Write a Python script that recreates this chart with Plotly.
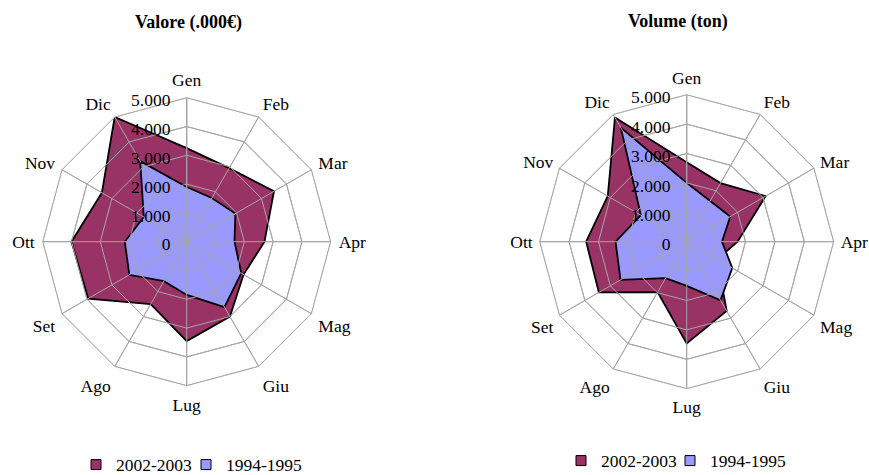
import plotly.graph_objects as go

months = ["Gen", "Feb", "Mar", "Apr", "Mag", "Giu", "Lug", "Ago", "Set", "Ott", "Nov", "Dic"]
valore_2002_2003 = [3250, 2950, 3500, 2700, 2280, 3000, 3450, 2500, 3950, 4000, 3400, 5000]
valore_1994_1995 = [1900, 1750, 1950, 1660, 2190, 2620, 1850, 1580, 2300, 2150, 1720, 3230]
volume_2002_2003 = [2700, 2300, 3100, 1730, 1200, 2720, 3460, 1980, 3450, 3420, 3100, 4880]
volume_1994_1995 = [2000, 1600, 1710, 1200, 1790, 2300, 1500, 1430, 2600, 2420, 1800, 4480]
series_names = ["2002-2003", "1994-1995"]
tick_vals = [0, 1000, 2000, 3000, 4000, 5000]
tick_text = ["0", "1.000", "2.000", "3.000", "4.000", "5.000"]
titles = ["Valore (.000€)", "Volume (ton)"]

PURPLE = "#993366"
BLUE = "#9999FF"
GRID = "#a6a6a6"
FONT = "Liberation Serif"
W, H = 869, 475

def closed(vals):
    return list(vals) + [vals[0]]

fig = go.Figure()

def add_chart(subplot, legends, s_new, s_old):
    for name, vals, col in [(series_names[0], s_new, PURPLE), (series_names[1], s_old, BLUE)]:
        fig.add_trace(go.Scatterpolar(
            r=closed(vals), theta=closed(months), mode="lines", fill="toself",
            fillcolor=col, line=dict(color="black", width=1.8),
            showlegend=False, subplot=subplot, hoverinfo="r+theta", name=name))
    # grid overlay (rings and spokes drawn above the areas)
    for v in tick_vals[1:]:
        fig.add_trace(go.Scatterpolar(
            r=[v] * (len(months) + 1), theta=closed(months), mode="lines",
            line=dict(color=GRID, width=1), showlegend=False, hoverinfo="skip",
            subplot=subplot))
    sr, st = [], []
    for m in months:
        sr += [tick_vals[0], tick_vals[-1], None]
        st += [m, m, None]
    fig.add_trace(go.Scatterpolar(
        r=sr, theta=st, mode="lines", line=dict(color=GRID, width=1),
        showlegend=False, hoverinfo="skip", subplot=subplot, connectgaps=False))
    for name, col, lg in [(series_names[0], PURPLE, legends[0]), (series_names[1], BLUE, legends[1])]:
        fig.add_trace(go.Scatterpolar(
            r=[None], theta=[None], mode="markers", name=name,
            marker=dict(symbol="square", size=10, color=col, line=dict(color="black", width=1)),
            subplot=subplot, legend=lg, showlegend=True))

add_chart("polar", ("legend", "legend2"), valore_2002_2003, valore_1994_1995)
add_chart("polar2", ("legend3", "legend4"), volume_2002_2003, volume_1994_1995)

def polar_layout(cx, cy, rad, tl):
    return dict(
        domain=dict(x=[(cx - rad) / W, (cx + rad) / W],
                    y=[(H - cy - rad) / H, (H - cy + rad) / H]),
        gridshape="linear",
        bgcolor="white",
        radialaxis=dict(range=[0, 5000], tickvals=tick_vals, ticktext=tick_text,
                        angle=90, side="counterclockwise", showline=True,
                        linecolor=GRID, gridcolor=GRID, ticks="",
                        tickfont=dict(family=FONT, size=17.5, color="black"),
                        layer="above traces"),
        angularaxis=dict(rotation=90, direction="clockwise", linecolor=GRID,
                         gridcolor=GRID, ticks="outside", ticklen=tl,
                         tickcolor="rgba(0,0,0,0)", showline=True,
                         tickfont=dict(family=FONT, size=17.5, color="black")),
    )

def legend_at(x_px, y_px):
    return dict(orientation="h", x=x_px / W, y=1 - y_px / H, xanchor="left", yanchor="middle",
                font=dict(family=FONT, size=17.5, color="black"), itemwidth=30,
                bgcolor="rgba(0,0,0,0)", borderwidth=0)

fig.update_layout(
    width=W, height=H,
    margin=dict(l=0, r=0, t=0, b=0, pad=0, autoexpand=False),
    paper_bgcolor="white", plot_bgcolor="white",
    showlegend=True,
    polar=polar_layout(186.7, 241.7, 144, 4),
    polar2=polar_layout(686.7, 241.7, 147, 3),
    legend=legend_at(76, 464.7),
    legend2=legend_at(186, 464.7),
    legend3=legend_at(561, 460.7),
    legend4=legend_at(670, 460.7),
    annotations=[
        dict(text="<b>" + titles[0] + "</b>", x=188.8 / W, y=1 - 22.5 / H, xref="paper", yref="paper",
             showarrow=False, xanchor="center", yanchor="middle",
             font=dict(family=FONT, size=18, color="black")),
        dict(text="<b>" + titles[1] + "</b>", x=677.5 / W, y=1 - 22 / H, xref="paper", yref="paper",
             showarrow=False, xanchor="center", yanchor="middle",
             font=dict(family=FONT, size=18, color="black")),
    ],
)

fig.write_html("out.html", config={"displayModeBar": False},
               post_script="document.body.style.margin='0';document.body.style.padding='0';")
